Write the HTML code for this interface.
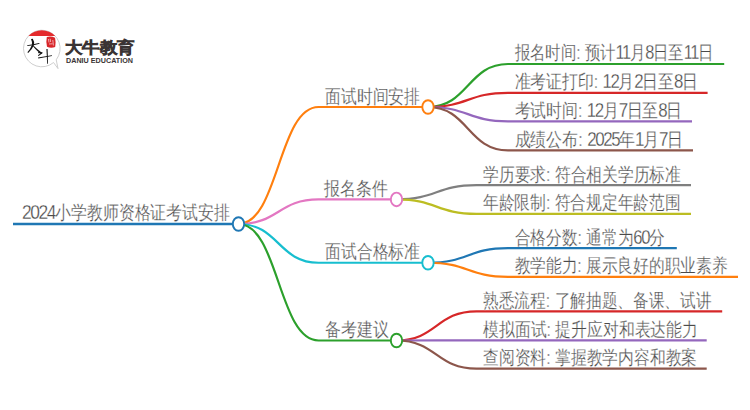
<!DOCTYPE html>
<html><head><meta charset="utf-8">
<style>
html,body{margin:0;padding:0;background:#fff;width:750px;height:410px;overflow:hidden}
svg{display:block;font-family:"Liberation Sans",sans-serif}
.t{fill:#4a4a4a;font-size:19.2px;stroke:#fff;stroke-width:0.28px}
.l{fill:#4a4a4a;font-size:19px;stroke:#fff;stroke-width:0.28px}
.k{fill:none}
ellipse.n{fill:#fff}
</style></head><body>
<svg width="750" height="410" viewBox="0 0 750 410">
<g id="logo">
  <path d="M56.22 59.77 L58 68.6 L53.56 62.52 A18.3 18.3 0 1 1 56.22 59.77 Z" fill="#fff" stroke="#c8c8c8" stroke-width="0.9" stroke-linejoin="round"/>
  <path d="M28.43 36 A18.3 18.3 0 0 1 55.17 36 Z" fill="#e42a2c"/>
  <path d="M31 39.1 L32.8 38.8 Q34.6 41.5 34 45 Q32.2 49.6 28.2 52.9 L27.4 52.3 Q30.6 48.6 31.9 45 Q32.5 42.2 31 39.1 Z" fill="#151515"/>
  <path d="M27.1 45.3 Q33 44.3 39.1 43 L39.7 43.7 Q33.3 45.4 27.4 46.1 Z" fill="#151515"/>
  <path d="M33.4 45.4 Q36.8 48.8 41.9 52.7 L41.4 54 Q37.6 52 33 46.3 Z" fill="#151515"/>
  <path d="M38.6 52.6 L42.1 52.8 L38.6 55.4" fill="none" stroke="#151515" stroke-width="1.1" stroke-linecap="round" stroke-linejoin="round"/>
  <path d="M38 57.6 L51.9 55.2 L52 56 L38.3 58.4 Z" fill="#151515"/>
  <path d="M46.4 49 L47.6 48.9 Q48 56 47.9 63.7 L47.1 63.7 Q46.9 56 46.4 49 Z" fill="#151515"/>
  <path d="M46.8 37 Q51 35.8 55 37.8 Q56.2 42.5 55.2 47 Q51 48.4 47 46.8 Q45.8 42 46.8 37 Z" fill="#d8262a"/><path d="M48.5 39 L49 42.5 M50.2 38.8 L50.6 42 M49 44 L52.5 43.8 M52.8 40 L53.4 45.5" stroke="#fff" stroke-width="0.6" fill="none"/>
  <text x="65" y="52.8" font-size="16.2" fill="#3a3434" stroke="#3a3434" stroke-width="1.25" textLength="69.8" lengthAdjust="spacingAndGlyphs">大牛教育</text>
  <text x="66" y="62.8" font-size="6.6" font-weight="bold" fill="#3a3434" textLength="67" lengthAdjust="spacingAndGlyphs">DANIU EDUCATION</text>
</g>

<path class="k" d="M238.5 224 C278.5 224 278.5 107 318.5 107 H428" stroke="#ff7f0e" stroke-width="2.2"/>
<path class="k" d="M428 107 C468.0 107 468.0 64 508 64 H724.2" stroke="#2ca02c" stroke-width="2.2"/>
<path class="k" d="M428 107 C468.0 107 468.0 92.8 508 92.8 H707.6" stroke="#d62728" stroke-width="2.2"/>
<path class="k" d="M428 107 C468.0 107 468.0 121.3 508 121.3 H692" stroke="#9467bd" stroke-width="2.2"/>
<path class="k" d="M428 107 C468.0 107 468.0 150.4 508 150.4 H693" stroke="#8c564b" stroke-width="2.2"/>
<path class="k" d="M238.5 224 C278.5 224 278.5 199.4 318.5 199.4 H396.5" stroke="#e377c2" stroke-width="2.2"/>
<path class="k" d="M396.5 199.4 C436.5 199.4 436.5 185.2 476.5 185.2 H691" stroke="#7f7f7f" stroke-width="2.2"/>
<path class="k" d="M396.5 199.4 C436.5 199.4 436.5 213.8 476.5 213.8 H691" stroke="#bcbd22" stroke-width="2.2"/>
<path class="k" d="M238.5 224 C278.5 224 278.5 262.75 318.5 262.75 H428" stroke="#17becf" stroke-width="2.2"/>
<path class="k" d="M428 262.75 C468.0 262.75 468.0 248.1 508 248.1 H676.8" stroke="#1f77b4" stroke-width="2.2"/>
<path class="k" d="M428 262.75 C468.0 262.75 468.0 276.8 508 276.8 H738" stroke="#ff7f0e" stroke-width="2.2"/>
<path class="k" d="M238.5 224 C278.5 224 278.5 340.5 318.5 340.5 H396.5" stroke="#2ca02c" stroke-width="2.2"/>
<path class="k" d="M396.5 340.5 C436.5 340.5 436.5 311.3 476.5 311.3 H722.2" stroke="#d62728" stroke-width="2.2"/>
<path class="k" d="M396.5 340.5 C436.5 340.5 436.5 340.3 476.5 340.3 H706.7" stroke="#9467bd" stroke-width="2.2"/>
<path class="k" d="M396.5 340.5 C436.5 340.5 436.5 368.7 476.5 368.7 H706.7" stroke="#8c564b" stroke-width="2.2"/>
<path class="k" d="M13 224 H238.5" stroke="#1f77b4" stroke-width="2.5"/>
<ellipse class="n" cx="428" cy="107" rx="5.7" ry="6.8" stroke="#ff7f0e" stroke-width="1.9"/>
<ellipse class="n" cx="396.5" cy="199.4" rx="5.7" ry="6.8" stroke="#e377c2" stroke-width="1.9"/>
<ellipse class="n" cx="428" cy="262.75" rx="5.7" ry="6.8" stroke="#17becf" stroke-width="1.9"/>
<ellipse class="n" cx="396.5" cy="340.5" rx="5.7" ry="6.8" stroke="#2ca02c" stroke-width="1.9"/>
<ellipse class="n" cx="238.5" cy="224" rx="5.7" ry="6.8" stroke="#1f77b4" stroke-width="1.9"/>
<text class="t" x="22" y="218.8" textLength="208" lengthAdjust="spacingAndGlyphs"><tspan font-size="20.8" letter-spacing="-1.7">2024</tspan>小学教师资格证考试安排</text>
<text class="t" x="325" y="102.8" textLength="95" lengthAdjust="spacingAndGlyphs">面试时间安排</text>
<text class="l" x="514.5" y="59.4" textLength="199" lengthAdjust="spacingAndGlyphs">报名时间: 预计<tspan font-size="20.2" letter-spacing="-1.7">11</tspan>月<tspan font-size="20.2" letter-spacing="-1.7">8</tspan>日至<tspan font-size="20.2" letter-spacing="-1.7">11</tspan>日</text>
<text class="l" x="514.5" y="88.2" textLength="183.2" lengthAdjust="spacingAndGlyphs">准考证打印: <tspan font-size="20.2" letter-spacing="-1.7">12</tspan>月<tspan font-size="20.2" letter-spacing="-1.7">2</tspan>日至<tspan font-size="20.2" letter-spacing="-1.7">8</tspan>日</text>
<text class="l" x="514.5" y="116.7" textLength="167.7" lengthAdjust="spacingAndGlyphs">考试时间: <tspan font-size="20.2" letter-spacing="-1.7">12</tspan>月<tspan font-size="20.2" letter-spacing="-1.7">7</tspan>日至<tspan font-size="20.2" letter-spacing="-1.7">8</tspan>日</text>
<text class="l" x="514.5" y="145.8" textLength="168.5" lengthAdjust="spacingAndGlyphs">成绩公布: <tspan font-size="20.2" letter-spacing="-1.7">2025</tspan>年<tspan font-size="20.2" letter-spacing="-1.7">1</tspan>月<tspan font-size="20.2" letter-spacing="-1.7">7</tspan>日</text>
<text class="t" x="324" y="194.5" textLength="64" lengthAdjust="spacingAndGlyphs">报名条件</text>
<text class="l" x="483.0" y="180.6" textLength="197.8" lengthAdjust="spacingAndGlyphs">学历要求: 符合相关学历标准</text>
<text class="l" x="483.0" y="209.2" textLength="197.7" lengthAdjust="spacingAndGlyphs">年龄限制: 符合规定年龄范围</text>
<text class="t" x="325" y="258.3" textLength="95" lengthAdjust="spacingAndGlyphs">面试合格标准</text>
<text class="l" x="514.5" y="243.5" textLength="150.3" lengthAdjust="spacingAndGlyphs">合格分数: 通常为<tspan font-size="20.2" letter-spacing="-1.7">60</tspan>分</text>
<text class="l" x="514.5" y="272.2" textLength="212.8" lengthAdjust="spacingAndGlyphs">教学能力: 展示良好的职业素养</text>
<text class="t" x="324.5" y="335.8" textLength="64" lengthAdjust="spacingAndGlyphs">备考建议</text>
<text class="l" x="483.0" y="306.7" textLength="228.6" lengthAdjust="spacingAndGlyphs">熟悉流程: 了解抽题、备课、试讲</text>
<text class="l" x="483.0" y="335.7" textLength="215.1" lengthAdjust="spacingAndGlyphs">模拟面试: 提升应对和表达能力</text>
<text class="l" x="483.0" y="364.1" textLength="214.2" lengthAdjust="spacingAndGlyphs">查阅资料: 掌握教学内容和教案</text>
</svg>
</body></html>
